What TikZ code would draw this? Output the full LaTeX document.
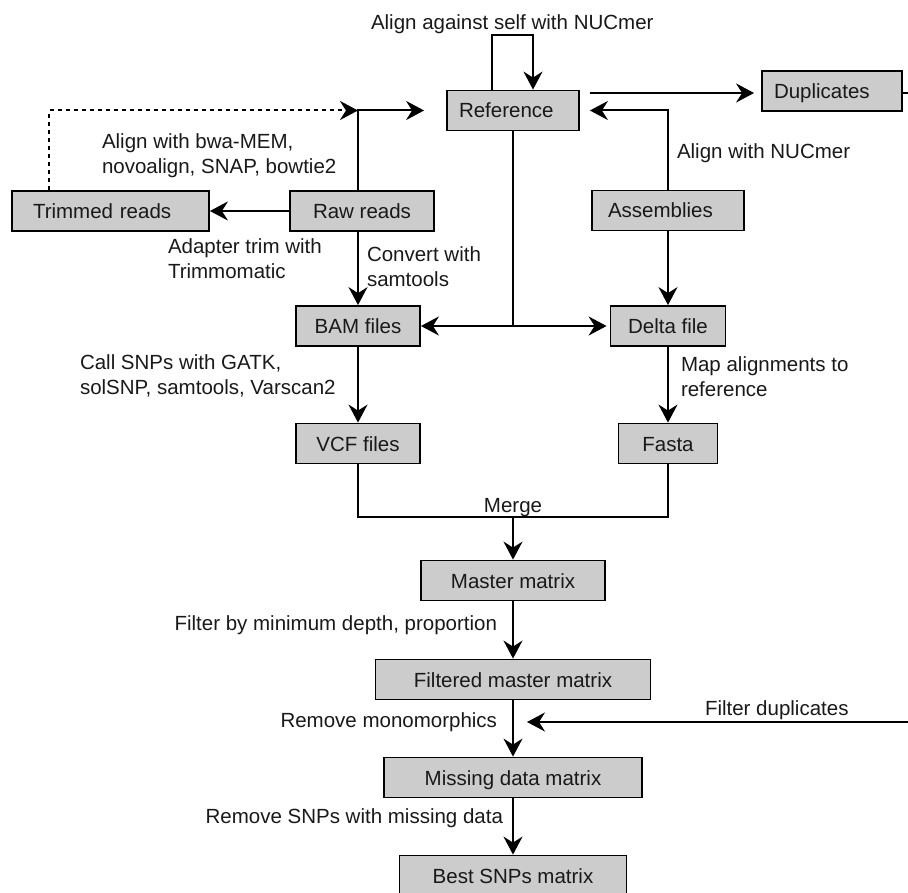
\documentclass[tikz,border=0pt]{standalone}
\usepackage{fontspec}
\setmainfont{Liberation Sans}
\usetikzlibrary{arrows.meta,positioning}

\begin{document}
\begin{tikzpicture}[x=1pt,y=-1pt,
    stagebox/.style={draw, fill=black!20, line width=1.8pt,
        minimum height=40pt, text height=15pt, text depth=0pt,
        inner xsep=4pt, text=black!90},
    stageleft/.style={stagebox, align=left},
    lab/.style={inner sep=0pt, align=left, text=black!90},
    arr/.style={-{Stealth[length=18pt,width=19pt,inset=6pt]}},
    font=\fontsize{20.5}{25.5}\selectfont,
    line width=2pt
]
\useasboundingbox (0,0) rectangle (908,893);

% boxes
\node[stageleft, text width=108pt, inner xsep=12pt] (ref) at (513,110.5) {Reference};
\node[stageleft, text width=116pt, inner xsep=12pt] (dup) at (832,91) {Duplicates};
\node[stageleft, text width=155pt, inner xsep=21pt] (trim) at (110.5,211) {Trimmed reads};
\node[stagebox, minimum width=144pt] (raw) at (362,211) {Raw reads};
\node[stageleft, text width=120pt, inner xsep=16pt] (asm) at (668,210.5) {Assemblies};
\node[stagebox, minimum width=124pt] (bam) at (358,326) {BAM files};
\node[stagebox, minimum width=115pt] (delta) at (668,326) {Delta file};
\node[stagebox, minimum width=124pt] (vcf) at (358,443.5) {VCF files};
\node[stagebox, minimum width=99pt] (fasta) at (668,443.5) {Fasta};
\node[stagebox, minimum width=184pt] (master) at (513,580.5) {Master matrix};
\node[stagebox, minimum width=275pt] (filt) at (513,679.5) {Filtered master matrix};
\node[stagebox, minimum width=258pt] (miss) at (513,777.5) {Missing data matrix};
\node[stagebox, minimum width=227pt] (best) at (513,875.5) {Best SNPs matrix};

% junctions
\coordinate (split) at (ref.west -| bam.north);
\coordinate (refsplit) at (ref.south |- bam.east);
\coordinate (merge) at (master.north |- 0,517);
\coordinate (dupturn) at (916,722);
\coordinate (dupin) at (filt.south |- dupturn);

% connectors
\draw[arr] ([xshift=-21pt]ref.north) -- ++(0,-55) -| ([xshift=20pt]ref.north);
\draw[arr, shorten >=22pt] (raw.north -| bam.north) -- (split) -- (ref.west);
\draw[arr, dash pattern=on 4pt off 4pt] ([xshift=38pt]trim.north west) |- (split);
\draw[arr, shorten <=10pt, shorten >=7pt] (ref.east |- 0,93) -- (dup.west |- 0,93);
\draw[arr, shorten >=10pt] (asm.north) |- (ref.east);
\draw[arr] (raw.west) -- (trim.east);
\draw[arr] (raw.south -| bam.north) -- (bam.north);
\draw (ref.south) -- (refsplit);
\draw[arr] (refsplit) -- (bam.east);
\draw[arr, shorten >=3pt] (refsplit) -- (delta.west);
\draw[arr] (asm.south) -- (delta.north);
\draw[arr] (delta.south) -- (fasta.north);
\draw[arr] (bam.south) -- (vcf.north);
\draw (vcf.south) |- (fasta.south |- merge) -- (fasta.south);
\draw[arr] (merge) -- (master.north);
\draw[arr] (master.south) -- (filt.north);
\draw[arr] (filt.south) -- (miss.north);
\draw[arr] (miss.south) -- (best.north);
\draw[arr, shorten >=14pt] (dup.east |- 0,93) -| (dupturn) -- (dupin);

% labels
\node[lab, anchor=base west] (selflab) at (370,30) {Align against self with NUCmer};
\node[lab, anchor=north west] (alignlab) at (101,132.3) {Align with bwa-MEM,\\novoalign, SNAP, bowtie2};
\node[lab, anchor=north west] (trimlab) at (167,237.3) {Adapter trim with\\Trimmomatic};
\node[lab, anchor=north west] (convlab) at (366,245.3) {Convert with\\samtools};
\node[lab, anchor=base west] (nuclab) at (676,159) {Align with NUCmer};
\node[lab, anchor=north west] (snplab) at (79,353.3) {Call SNPs with GATK,\\solSNP, samtools, Varscan2};
\node[lab, anchor=north west] (maplab) at (680,355.3) {Map alignments to\\reference};
\node[lab, anchor=base] (mergelab) at ([yshift=5pt]merge) {Merge};
\node[lab, anchor=base east] (depthlab) at (498,630) {Filter by minimum depth, proportion};
\node[lab, anchor=base east] (monolab) at (498,727) {Remove monomorphics};
\node[lab, anchor=base west] (duplab) at (704,715) {Filter duplicates};
\node[lab, anchor=base east] (misslab) at (504,823) {Remove SNPs with missing data};
\end{tikzpicture}
\end{document}
